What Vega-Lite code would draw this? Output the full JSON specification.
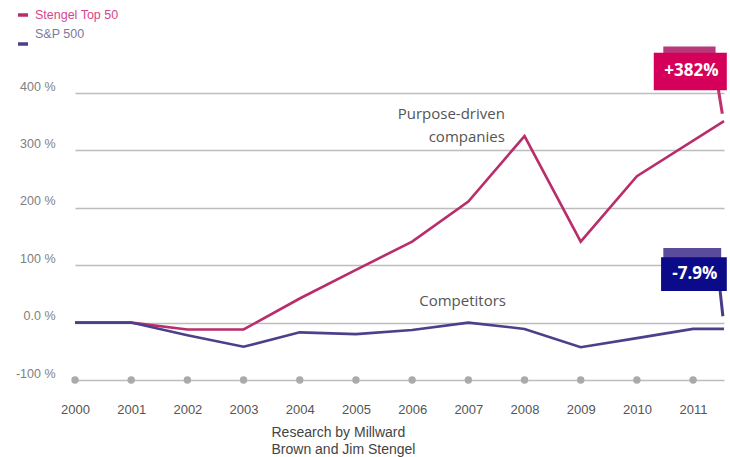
{
  "$schema": "https://vega.github.io/schema/vega-lite/v6.json",
  "autosize": {"type": "none"},
  "width": 649,
  "height": 287,
  "padding": {"left": 75, "top": 93, "right": 6, "bottom": 77},
  "background": "white",
  "config": {"view": {"stroke": null}, "font": "Liberation Sans"},
  "datasets": {
    "series": [
      {"year": 2000, "value": 0, "series": "Stengel Top 50"},
      {"year": 2001, "value": 0, "series": "Stengel Top 50"},
      {"year": 2002, "value": -12, "series": "Stengel Top 50"},
      {"year": 2003, "value": -12, "series": "Stengel Top 50"},
      {"year": 2004, "value": 42, "series": "Stengel Top 50"},
      {"year": 2005, "value": 92, "series": "Stengel Top 50"},
      {"year": 2006, "value": 141, "series": "Stengel Top 50"},
      {"year": 2007, "value": 211, "series": "Stengel Top 50"},
      {"year": 2008, "value": 325, "series": "Stengel Top 50"},
      {"year": 2009, "value": 141, "series": "Stengel Top 50"},
      {"year": 2010, "value": 255, "series": "Stengel Top 50"},
      {"year": 2011.55, "value": 351, "series": "Stengel Top 50"},
      {"year": 2000, "value": 0, "series": "S&P 500"},
      {"year": 2001, "value": 0, "series": "S&P 500"},
      {"year": 2002, "value": -22, "series": "S&P 500"},
      {"year": 2003, "value": -42, "series": "S&P 500"},
      {"year": 2004, "value": -17, "series": "S&P 500"},
      {"year": 2005, "value": -20, "series": "S&P 500"},
      {"year": 2006, "value": -13, "series": "S&P 500"},
      {"year": 2007, "value": 0, "series": "S&P 500"},
      {"year": 2008, "value": -11, "series": "S&P 500"},
      {"year": 2009, "value": -43, "series": "S&P 500"},
      {"year": 2010, "value": -27, "series": "S&P 500"},
      {"year": 2011, "value": -11, "series": "S&P 500"},
      {"year": 2011.55, "value": -11, "series": "S&P 500"}
    ],
    "years": [
      {"year": 2000, "base": -100}, {"year": 2001, "base": -100}, {"year": 2002, "base": -100}, {"year": 2003, "base": -100},
      {"year": 2004, "base": -100}, {"year": 2005, "base": -100}, {"year": 2006, "base": -100}, {"year": 2007, "base": -100},
      {"year": 2008, "base": -100}, {"year": 2009, "base": -100}, {"year": 2010, "base": -100}, {"year": 2011, "base": -100}
    ],
    "labels": [
      {"label": "annotation"}
    ]
  },
  "layer": [
    {
      "data": {"name": "series"},
      "transform": [{"filter": "datum.series == 'Stengel Top 50'"}],
      "mark": {"type": "line", "strokeWidth": 2.6},
      "encoding": {
        "x": {
          "field": "year", "type": "quantitative",
          "scale": {"domain": [2000, 2011.55], "nice": false, "zero": false},
          "axis": {
            "values": [2000, 2001, 2002, 2003, 2004, 2005, 2006, 2007, 2008, 2009, 2010, 2011],
            "format": "d", "grid": false, "domain": false, "ticks": false,
            "labelFlush": false,
            "labelPadding": 23, "labelFontSize": 13, "labelColor": "#555555",
            "labelFont": "Liberation Sans",
            "title": ["Research by Millward", "Brown and Jim Stengel"],
            "titleFontSize": 14, "titleFontWeight": "normal", "titleColor": "#444444",
            "titleFont": "Liberation Sans",
            "titleAlign": "left", "titleX": 196, "titleY": 45, "titleBaseline": "top",
            "titleLineHeight": 17
          }
        },
        "y": {
          "field": "value", "type": "quantitative",
          "scale": {"domain": [-100, 400], "nice": false},
          "axis": {
            "values": [-100, 0, 100, 200, 300, 400],
            "labelExpr": "datum.value == 0 ? '0.0 %' : datum.value + ' %'",
            "grid": true, "gridColor": "#bdbdbd", "gridWidth": 1.6,
            "domain": false, "ticks": false, "labelPadding": 20,
            "labelFontSize": 12.5, "labelColor": "#808080", "labelBaseline": "bottom",
            "labelFont": "Liberation Sans", "title": null
          }
        },
        "color": {
          "field": "series", "type": "nominal",
          "scale": {"domain": ["Stengel Top 50", "S&P 500"], "range": ["#b92d6a", "#4e3f8b"]},
          "legend": {
            "orient": "none", "legendX": -59, "legendY": -85, "title": null,
            "symbolType": "stroke", "symbolStrokeWidth": 3.5, "symbolSize": 100,
            "labelFontSize": 12.5, "labelFont": "Liberation Sans", "rowPadding": 5,
            "labelOffset": 5,
            "encode": {
              "labels": {"update": {"fill": {"signal": "datum.value == 'Stengel Top 50' ? '#d6468a' : '#7a7aa0'"}}},
              "symbols": {"update": {"y": {"signal": "datum.index == 1 ? 17 : 7"}}}
            }
          }
        }
      }
    },
    {
      "data": {"name": "series"},
      "transform": [{"filter": "datum.series == 'S&P 500'"}],
      "mark": {"type": "line", "strokeWidth": 2.6},
      "encoding": {
        "x": {"field": "year", "type": "quantitative"},
        "y": {"field": "value", "type": "quantitative"},
        "color": {"field": "series", "type": "nominal"}
      }
    },
    {
      "data": {"name": "years"},
      "mark": {"type": "point", "filled": true, "size": 55, "color": "#aaaaaa", "opacity": 1},
      "encoding": {
        "x": {"field": "year", "type": "quantitative"},
        "y": {"field": "base", "type": "quantitative"}
      }
    },
    {
      "data": {"name": "labels"},
      "mark": {"type": "text", "align": "right", "baseline": "middle", "font": "Open Sans", "fontSize": 15, "color": "#555555", "lineHeight": 23},
      "encoding": {
        "x": {"datum": 2007.65},
        "y": {"datum": 363},
        "text": {"value": ["Purpose-driven", "companies"]}
      }
    },
    {
      "data": {"name": "labels"},
      "mark": {"type": "text", "align": "right", "baseline": "middle", "font": "Open Sans", "fontSize": 15, "color": "#555555"},
      "encoding": {
        "x": {"datum": 2007.67},
        "y": {"datum": 37},
        "text": {"value": "Competitors"}
      }
    },
    {
      "data": {"name": "labels"},
      "mark": {"type": "rect", "color": "#b8387a"},
      "encoding": {"x": {"datum": 2010.47}, "x2": {"datum": 2011.4}, "y": {"datum": 481}, "y2": {"datum": 468}}
    },
    {
      "data": {"name": "labels"},
      "mark": {"type": "rule", "color": "#c0306e", "strokeWidth": 3},
      "encoding": {"x": {"datum": 2011.45}, "x2": {"datum": 2011.52}, "y": {"datum": 406}, "y2": {"datum": 364}}
    },
    {
      "data": {"name": "labels"},
      "mark": {"type": "rect", "color": "#d4005a"},
      "encoding": {"x": {"datum": 2010.3}, "x2": {"datum": 2011.6}, "y": {"datum": 470}, "y2": {"datum": 405}}
    },
    {
      "data": {"name": "labels"},
      "mark": {"type": "text", "align": "center", "baseline": "middle", "font": "Open Sans", "fontWeight": "bold", "fontSize": 17, "color": "white"},
      "encoding": {"x": {"datum": 2010.97}, "y": {"datum": 438}, "text": {"value": "+382%"}}
    },
    {
      "data": {"name": "labels"},
      "mark": {"type": "rect", "color": "#5b4b9b"},
      "encoding": {"x": {"datum": 2010.47}, "x2": {"datum": 2011.5}, "y": {"datum": 130}, "y2": {"datum": 112}}
    },
    {
      "data": {"name": "labels"},
      "mark": {"type": "rule", "color": "#4a3a8a", "strokeWidth": 3},
      "encoding": {"x": {"datum": 2011.48}, "x2": {"datum": 2011.53}, "y": {"datum": 56}, "y2": {"datum": 11}}
    },
    {
      "data": {"name": "labels"},
      "mark": {"type": "rect", "color": "#0b0b8a"},
      "encoding": {"x": {"datum": 2010.43}, "x2": {"datum": 2011.6}, "y": {"datum": 114}, "y2": {"datum": 55}}
    },
    {
      "data": {"name": "labels"},
      "mark": {"type": "text", "align": "center", "baseline": "middle", "font": "Open Sans", "fontWeight": "bold", "fontSize": 17, "color": "white"},
      "encoding": {"x": {"datum": 2011.03}, "y": {"datum": 84}, "text": {"value": "-7.9%"}}
    }
  ]
}
